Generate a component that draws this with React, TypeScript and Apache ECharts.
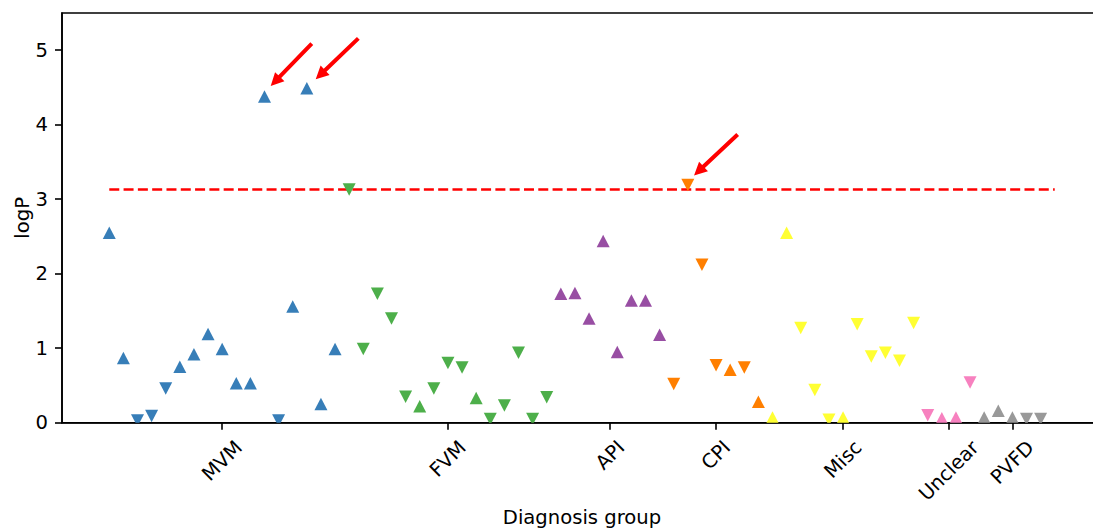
import React, { useEffect, useRef } from "react";
import * as echarts from "echarts";

// ---- data ----
const groupNames = ["MVM", "FVM", "API", "CPI", "Misc", "Unclear", "PVFD"];
const groupColors = ["#377eb8", "#4daf4a", "#984ea3", "#ff7f00", "#ffff33", "#f781bf", "#999999"];

const mvmValues = [2.55, 0.87, 0.03, 0.09, 0.46, 0.75, 0.92, 1.19, 0.99, 0.53, 0.53, 4.38, 0.03, 1.56, 4.49, 0.25, 0.99];
const mvmDirs = [1, 1, -1, -1, -1, 1, 1, 1, 1, 1, 1, 1, -1, 1, 1, 1, 1];
const fvmValues = [3.13, 0.99, 1.73, 1.4, 0.35, 0.22, 0.46, 0.8, 0.74, 0.33, 0.05, 0.23, 0.94, 0.05, 0.34];
const fvmDirs = [-1, -1, -1, -1, -1, 1, -1, -1, -1, 1, -1, -1, -1, -1, -1];
const apiValues = [1.73, 1.74, 1.4, 2.44, 0.95, 1.64, 1.64, 1.18];
const apiDirs = [1, 1, 1, 1, 1, 1, 1, 1];
const cpiValues = [0.52, 3.19, 2.12, 0.77, 0.71, 0.74, 0.28];
const cpiDirs = [-1, -1, -1, -1, 1, -1, 1];
const miscValues = [0.07, 2.55, 1.27, 0.44, 0.04, 0.07, 1.32, 0.89, 0.94, 0.83, 1.34];
const miscDirs = [1, 1, -1, -1, -1, 1, -1, -1, -1, -1, -1];
const unclearValues = [0.1, 0.06, 0.07, 0.54];
const unclearDirs = [-1, 1, 1, -1];
const pvfdValues = [0.07, 0.16, 0.07, 0.05, 0.05];
const pvfdDirs = [1, 1, 1, -1, -1];

const groupValues = [mvmValues, fvmValues, apiValues, cpiValues, miscValues, unclearValues, pvfdValues];
const groupDirs = [mvmDirs, fvmDirs, apiDirs, cpiDirs, miscDirs, unclearDirs, pvfdDirs];

const yTicks = [0, 1, 2, 3, 4, 5];
const threshold = 3.13;
// annotation arrows: [tailX, tailY, tipX, tipY] in data units
const arrows = [
  [14.35, 5.09, 11.44, 4.52],
  [17.65, 5.16, 14.63, 4.61],
  [44.53, 3.87, 41.44, 3.32],
];

const FONT = "DejaVu Sans";
const FS = 19.6;

export default function App() {
  const ref = useRef<HTMLDivElement>(null);
  useEffect(() => {
    if (!ref.current) return;
    const chart = echarts.init(ref.current, null, { renderer: "svg" });

    let start = 0;
    const mids: number[] = [];
    const series: any[] = [];
    groupValues.forEach((vals, gi) => {
      const dirs = groupDirs[gi];
      const data = vals.map((v, k) => [start + k, v, dirs[k]]);
      mids.push(start + (vals.length - 1) / 2);
      start += vals.length;
      const color = groupColors[gi];
      series.push({
        type: "custom",
        name: groupNames[gi],
        coordinateSystem: "cartesian2d",
        clip: true,
        encode: { x: 0, y: 1 },
        data,
        renderItem: (params: any, api: any) => {
          const p = api.coord([api.value(0), api.value(1)]);
          const d = api.value(2);
          const w = 13;
          const h = 12.5;
          const pts =
            d > 0
              ? [[p[0], p[1] - h / 2], [p[0] - w / 2, p[1] + h / 2], [p[0] + w / 2, p[1] + h / 2]]
              : [[p[0], p[1] + h / 2], [p[0] - w / 2, p[1] - h / 2], [p[0] + w / 2, p[1] - h / 2]];
          return { type: "polygon", shape: { points: pts }, style: { fill: color } };
        },
        z: 3,
      });
    });
    const total = start;

    series.push({
      type: "line",
      data: [[0, threshold], [total, threshold]],
      symbol: "none",
      lineStyle: { color: "#ff0000", width: 2.5, type: [10, 4.3] },
      z: 2,
    });

    series.push({
      type: "custom",
      coordinateSystem: "cartesian2d",
      clip: false,
      data: arrows,
      encode: { x: [0, 2], y: [1, 3] },
      renderItem: (params: any, api: any) => {
        const a = api.coord([api.value(0), api.value(1)]);
        const b = api.coord([api.value(2), api.value(3)]);
        const dx = b[0] - a[0];
        const dy = b[1] - a[1];
        const len = Math.sqrt(dx * dx + dy * dy);
        const ux = dx / len;
        const uy = dy / len;
        const nx = -uy;
        const ny = ux;
        const hl = 13, hw = 13, sw = 4;
        const bx = b[0] - ux * hl;
        const by = b[1] - uy * hl;
        const pts = [
          [a[0] + nx * sw / 2, a[1] + ny * sw / 2],
          [bx + nx * sw / 2, by + ny * sw / 2],
          [bx + nx * hw / 2, by + ny * hw / 2],
          [b[0], b[1]],
          [bx - nx * hw / 2, by - ny * hw / 2],
          [bx - nx * sw / 2, by - ny * sw / 2],
          [a[0] - nx * sw / 2, a[1] - ny * sw / 2],
        ];
        return { type: "polygon", shape: { points: pts }, style: { fill: "#ff0000" } };
      },
      z: 5,
    });

    const axisLine = { show: true, onZero: false, lineStyle: { color: "#000", width: 1.6 } };
    chart.setOption({
      animation: false,
      textStyle: { fontFamily: FONT },
      grid: {
        left: 62,
        top: 13,
        right: 8,
        bottom: 105.3,
        show: true,
        borderColor: "#000",
        borderWidth: 1.6,
        backgroundColor: "transparent",
        containLabel: false,
        outerBoundsMode: "none",
      },
      xAxis: {
        type: "value",
        min: -3.35,
        max: 70.35,
        axisLine,
        axisTick: { show: true, length: 7, lineStyle: { color: "#000", width: 1.6 }, customValues: mids },
        axisLabel: { show: false },
        splitLine: { show: false },
        name: "Diagnosis group",
        nameLocation: "middle",
        nameGap: 85,
        nameMoveOverlap: false,
        nameTextStyle: { fontSize: FS, color: "#000", fontFamily: FONT },
      },
      yAxis: {
        type: "value",
        min: 0,
        max: 5.5,
        interval: 1,
        axisLine,
        axisTick: { show: true, length: 7, lineStyle: { color: "#000", width: 1.6 }, customValues: yTicks },
        axisLabel: { fontSize: FS, color: "#000", fontFamily: FONT, margin: 14, customValues: yTicks },
        splitLine: { show: false },
        name: "logP",
        nameLocation: "middle",
        nameGap: 30,
        nameRotate: 90,
        nameMoveOverlap: false,
        nameTextStyle: { fontSize: FS, color: "#000", fontFamily: FONT },
      },
      series,
    });

    const canvas = document.createElement("canvas");
    const ctx = canvas.getContext("2d")!;
    ctx.font = `${FS}px "${FONT}"`;
    const axisY = chart.convertToPixel({ gridIndex: 0 }, [0, 0])[1];
    const graphic = groupNames.map((g, i) => {
      const x = chart.convertToPixel({ xAxisIndex: 0 }, mids[i]) as number;
      const w = ctx.measureText(g).width;
      const h = FS * 1.1;
      const H = (w + h) * Math.SQRT1_2;
      return {
        type: "text",
        x,
        y: axisY + 13.8 + H / 2,
        rotation: Math.PI / 4,
        style: {
          text: g,
          fontSize: FS,
          fontFamily: FONT,
          fill: "#000",
          align: "center",
          verticalAlign: "middle",
          textAlign: "center",
          textVerticalAlign: "middle",
        },
      };
    });
    chart.setOption({ graphic });

    return () => chart.dispose();
  }, []);
  return (
    <div
      ref={ref}
      style={{ position: "fixed", left: 0, top: 0, width: 1110, height: 528, background: "#fff" }}
    />
  );
}
